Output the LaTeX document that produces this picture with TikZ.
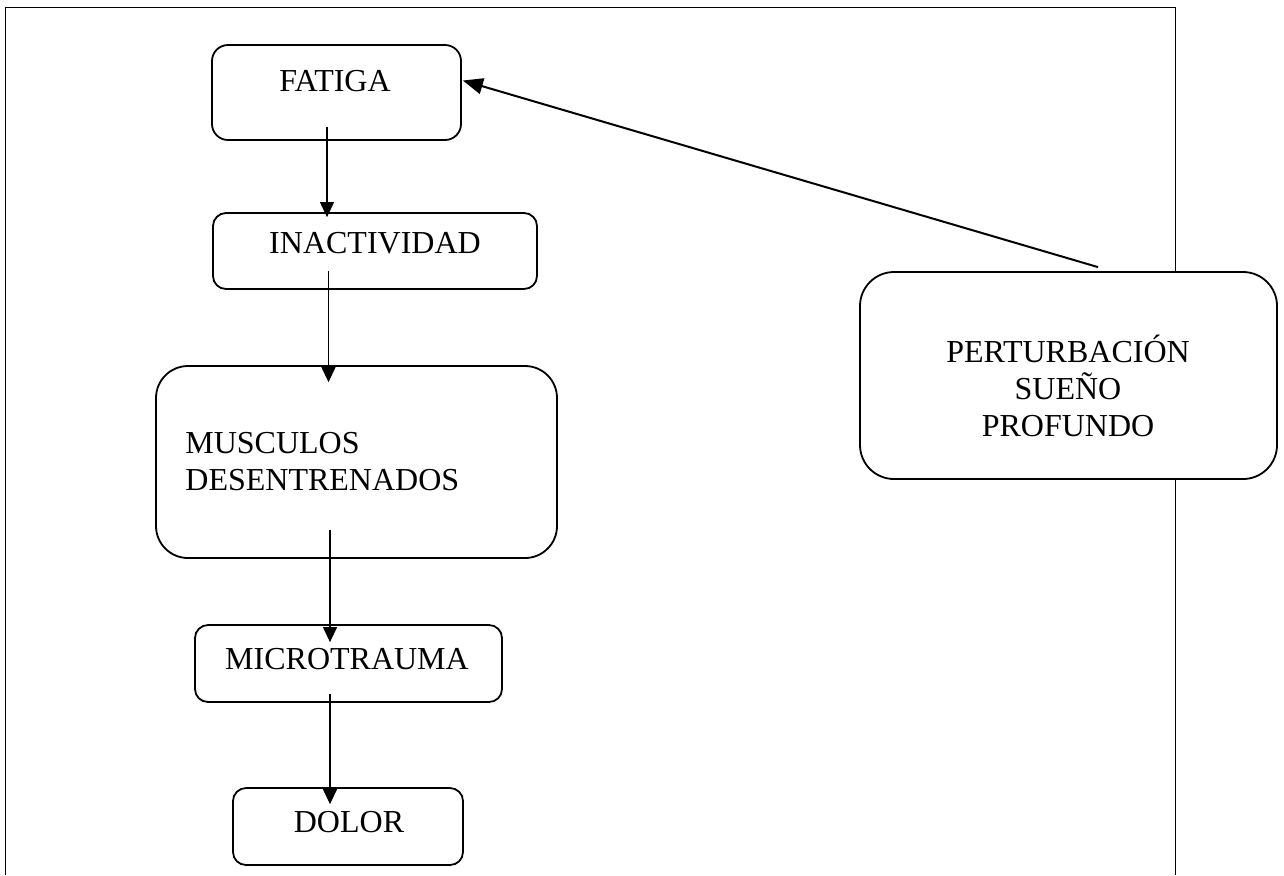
\documentclass[tikz,border=0pt]{standalone}
\usepackage{fontspec}
\setmainfont{Liberation Serif}
\usetikzlibrary{arrows.meta}
\begin{document}
\begin{tikzpicture}[x=0.5pt,y=-0.5pt]
	\tikzstyle{caja}=[draw=black,fill=white,line width=0.9pt,inner sep=0pt]
	\tikzstyle{texto}=[inner sep=0pt,font=\fontsize{16}{18.5}\selectfont]
	\tikzstyle{flecha}=[-{Triangle[length=7.5pt,width=7pt]},line width=0.6pt]
	\useasboundingbox (0,0) rectangle (1284,875);
	\draw[line width=0.5pt] (5,875) -- (5,7) -- (1175,7) -- (1175,875);
	\node[caja,minimum width=124.5pt,minimum height=47.5pt,rounded corners=8pt] (fatiga) at (336.5,92.5) {};
	\node[caja,minimum width=162pt,minimum height=38pt,rounded corners=6.5pt] (inactividad) at (375,251) {};
	\node[caja,minimum width=200.5pt,minimum height=96pt,rounded corners=16pt] (musculos) at (356.5,462) {};
	\node[caja,minimum width=153.5pt,minimum height=38.5pt,rounded corners=6.5pt] (microtrauma) at (348.5,663.5) {};
	\node[caja,minimum width=115pt,minimum height=38.5pt,rounded corners=6.5pt] (dolor) at (348,826.5) {};
	\node[caja,minimum width=208.5pt,minimum height=103.5pt,rounded corners=17pt] (sueno) at (1068.5,375.5) {};
	\node[texto] (fatigaT) at (335,81) {FATIGA};
	\node[texto] (inactividadT) at (375,243) {INACTIVIDAD};
	\node[texto,anchor=west,align=left] (musculosT) at (185,462) {MUSCULOS\\DESENTRENADOS};
	\node[texto] (microtraumaT) at (347,659) {MICROTRAUMA};
	\node[texto] (dolorT) at (349,822) {DOLOR};
	\node[texto,align=center] (suenoT) at (1068,386) {PERTURBACIÓN\\SUEÑO\\PROFUNDO};
	\draw[flecha] ([xshift=-4.75pt,yshift=7pt]fatiga.south) -- ([xshift=-24pt,yshift=-2.5pt]inactividad.north);
	\draw[flecha] ([xshift=-23.25pt,yshift=9.5pt]inactividad.south) -- ([xshift=-14pt,yshift=-8.5pt]musculos.north);
	\draw[flecha] ([xshift=-13.25pt,yshift=14.5pt]musculos.south) -- ([xshift=-9.25pt,yshift=-9pt]microtrauma.north);
	\draw[flecha] ([xshift=-9.25pt,yshift=4.5pt]microtrauma.south) -- ([xshift=-9pt,yshift=-8.5pt]dolor.north);
	\draw[-{Triangle[length=10pt,width=8pt]},line width=1pt] ([xshift=14.75pt,yshift=2pt]sueno.north) -- ([xshift=0.5pt,yshift=6pt]fatiga.east);
\end{tikzpicture}
\end{document}
